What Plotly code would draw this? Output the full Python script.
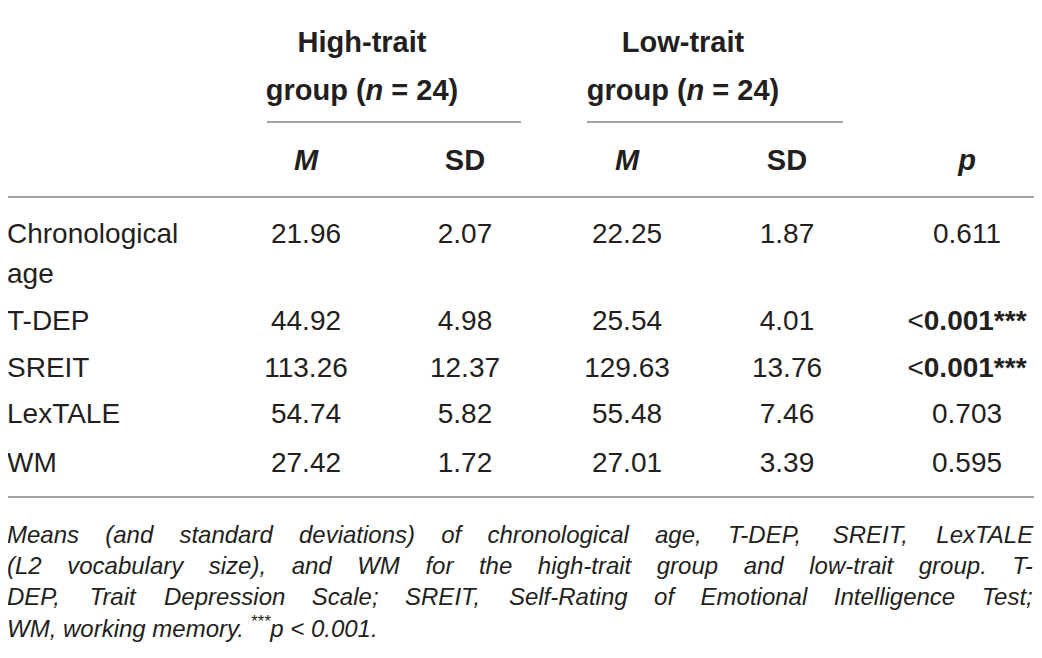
import plotly.graph_objects as go

# table data
variables = [["Chronological", "age"], ["T-DEP"], ["SREIT"], ["LexTALE"], ["WM"]]
high_m = [21.96, 44.92, 113.26, 54.74, 27.42]
high_sd = [2.07, 4.98, 12.37, 5.82, 1.72]
low_m = [22.25, 25.54, 129.63, 55.48, 27.01]
low_sd = [1.87, 4.01, 13.76, 7.46, 3.39]
p_values = [0.611, 0.001, 0.001, 0.703, 0.595]
p_significant = [False, True, True, False, False]

group_headers = [["High-trait", "group (<i>n</i> = 24)"], ["Low-trait", "group (<i>n</i> = 24)"]]
sub_headers = ["<i>M</i>", "SD", "<i>M</i>", "SD", "<i>p</i>"]

caption_lines = [
    "Means (and standard deviations) of chronological age, T-DEP, SREIT, LexTALE",
    "(L2 vocabulary size), and WM for the high-trait group and low-trait group. T-",
    "DEP, Trait Depression Scale; SREIT, Self-Rating of Emotional Intelligence Test;",
]
caption_last = "WM, working memory. <sup>***</sup><i>p</i> &lt; 0.001."

# layout, in page pixels (the page body has an 8px margin)
W, H = 1042, 658
PAGE_PAD = 8
col_x = [306, 465, 627, 787, 967]
group_x = [362, 683]
group_y = [45, 93]
sub_y = 163
row_y = [236, 323, 370, 416, 465]
line_gap = 40
label_x = 7
text_right = 1035
text_color = "#231f20"
rule_color = "#a3a3a3"
body_font = "Liberation Sans, Arial, sans-serif"
fs = 28
head_fs = 29
cap_fs = 24

# arial advance widths (1/1000 em) used to justify the caption
AW = {" ": 278, "(": 333, ")": 333, ",": 278, "-": 333, ".": 278, ";": 278, ":": 278}
AW.update({d: 556 for d in "0123456789"})
AW.update(dict(zip("ABCDEFGHIJKLMNOPQRSTUVWXYZ",
                   [667, 667, 722, 722, 667, 611, 778, 722, 278, 500, 667, 556, 833,
                    722, 778, 667, 778, 722, 667, 611, 722, 667, 944, 667, 667, 611])))
AW.update(dict(zip("abcdefghijklmnopqrstuvwxyz",
                   [556, 556, 500, 556, 556, 278, 556, 556, 222, 222, 500, 222, 833,
                    556, 556, 556, 556, 333, 500, 278, 556, 500, 722, 500, 500, 500])))


def word_width(w, size):
    return sum(AW.get(c, 556) for c in w) * size / 1000.0


fig = go.Figure()


def add_text(xs, ys, texts, pos="middle center", size=fs, italic=False):
    fig.add_trace(go.Scatter(x=xs, y=ys, text=texts, mode="text", textposition=pos,
                             textfont=dict(family=body_font, size=size, color=text_color,
                                           style="italic" if italic else "normal"),
                             hoverinfo="skip", showlegend=False))


# group headers (two lines each)
for gx, lines in zip(group_x, group_headers):
    add_text([gx] * len(lines), group_y, ["<b>" + s + "</b>" for s in lines], size=head_fs)

# sub headers
add_text(col_x, [sub_y] * len(col_x), ["<b>" + s + "</b>" for s in sub_headers], size=head_fs)

# row labels
lx, ly, lt = [], [], []
for y, lines in zip(row_y, variables):
    for i, s in enumerate(lines):
        lx.append(label_x)
        ly.append(y + i * line_gap)
        lt.append(s)
add_text(lx, ly, lt, pos="middle right")

# numeric columns
p_text = ["&lt;<b>0.001***</b>" if sig else f"{p:.3f}" for p, sig in zip(p_values, p_significant)]
for cx, vals in zip(col_x, [high_m, high_sd, low_m, low_sd]):
    add_text([cx] * len(vals), row_y, [f"{v:.2f}" for v in vals])
add_text([col_x[4]] * len(p_text), row_y, p_text)

# caption, justified word by word
caption_y = [537, 568, 599, 631]
for line, y in zip(caption_lines, caption_y):
    words = line.split(" ")
    widths = [word_width(w, cap_fs) for w in words]
    gap = (text_right - label_x - sum(widths)) / (len(words) - 1)
    xs, x = [], label_x
    for w in widths:
        xs.append(x)
        x += w + gap
    add_text(xs, [y] * len(words), words, pos="middle right", size=cap_fs, italic=True)
add_text([label_x], [caption_y[3]], [caption_last], pos="middle right", size=cap_fs, italic=True)

# rules
rules = [(6, 1036, 5), (267, 521, 122), (587, 843, 122), (6, 1036, 197), (6, 1036, 497)]
for x0, x1, y in rules:
    fig.add_shape(type="line", x0=x0, x1=x1, y0=y, y1=y, xref="x", yref="y",
                  line=dict(color=rule_color, width=2))

fig.update_layout(
    width=W - 2 * PAGE_PAD, height=H - 2 * PAGE_PAD, margin=dict(l=0, r=0, t=0, b=0),
    paper_bgcolor="white", plot_bgcolor="white",
    xaxis=dict(range=[PAGE_PAD, W - PAGE_PAD], visible=False, fixedrange=True),
    yaxis=dict(range=[H - PAGE_PAD, PAGE_PAD], visible=False, fixedrange=True),
)

fig.write_html("out.html")
